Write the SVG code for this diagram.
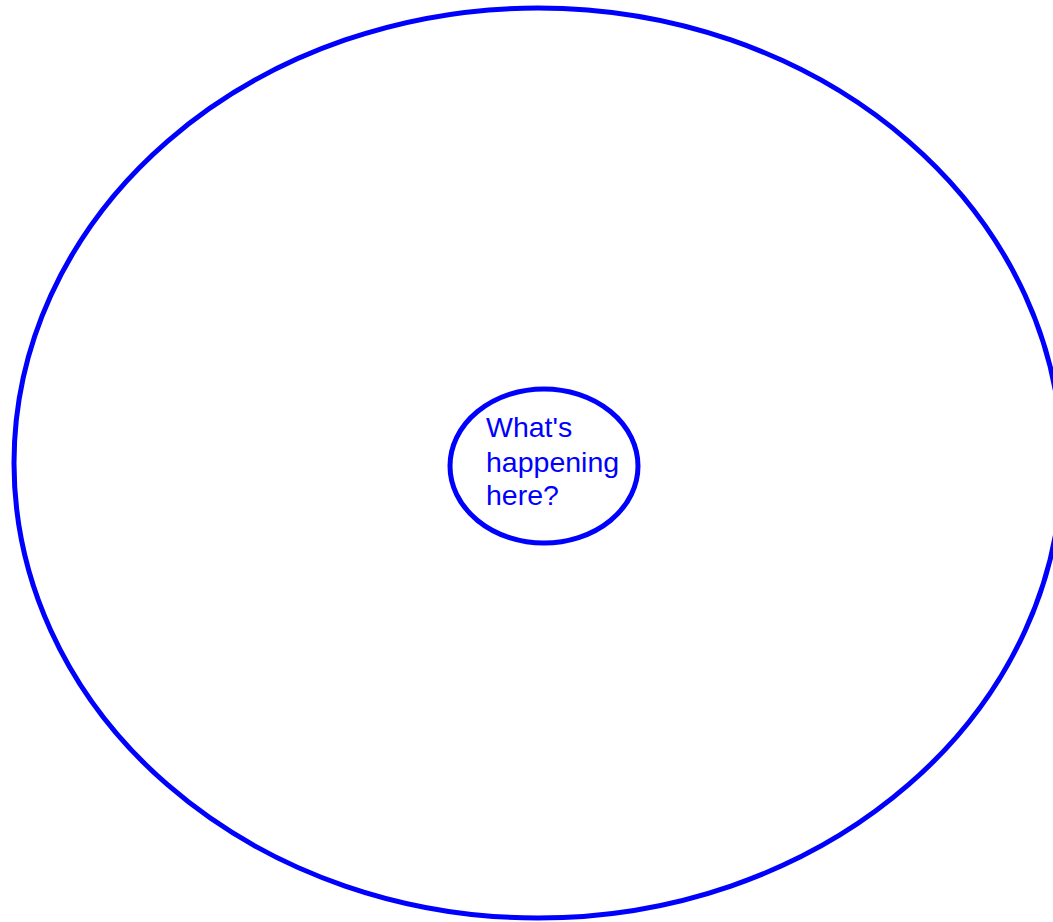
<svg xmlns="http://www.w3.org/2000/svg" width="1053" height="922" viewBox="0 0 1053 922">
<style>
.shape{fill:#ffffff;stroke:#0000ff;stroke-width:5}
.lbl{font-family:"Liberation Sans",Arial,sans-serif;font-size:28.5px;fill:#0000ff}
</style>
<rect width="1053" height="922" fill="#ffffff"/>
<g id="outer">
<ellipse class="shape" cx="538" cy="463" rx="524" ry="455"/>
</g>
<g id="inner">
<ellipse class="shape" cx="544" cy="466" rx="94" ry="77"/>
<text class="lbl" x="486" y="437">What's</text>
<text class="lbl" x="486" y="472">happening</text>
<text class="lbl" x="486" y="505">here?</text>
</g>
<g id="connectors"></g>
</svg>
